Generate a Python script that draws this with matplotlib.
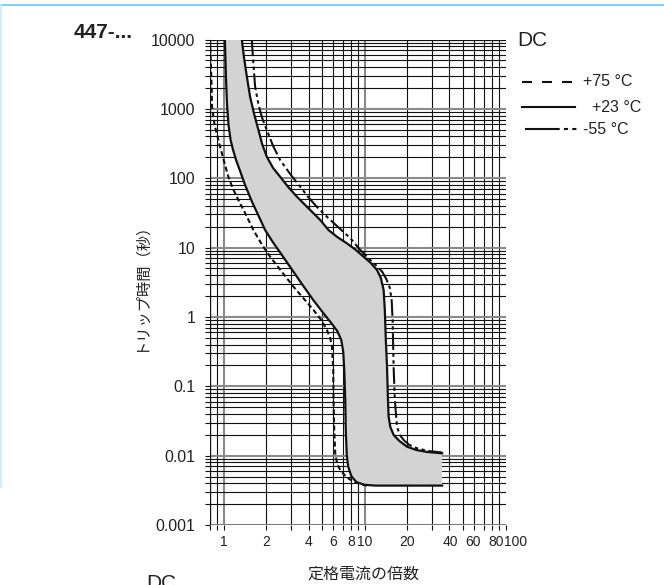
import matplotlib
matplotlib.use("Agg")
import matplotlib.pyplot as plt
from matplotlib.lines import Line2D
from matplotlib.ticker import FixedLocator, NullFormatter
from matplotlib.transforms import ScaledTranslation

plt.rcParams["font.family"] = ["Liberation Sans", "Noto Sans CJK JP", "DejaVu Sans"]
plt.rcParams["lines.scale_dashes"] = False

# 読み取ったデータ（定格電流の倍数, トリップ時間[s]）
# +23°C 下限（最小トリップ）
lower23_x = [1.02, 1.04, 1.057, 1.083, 1.12, 1.166, 1.225, 1.308, 1.419, 1.591, 1.785, 1.969,
             2.208, 2.559, 2.965, 3.549, 4.319, 5.088, 5.799, 6.397, 6.831, 7.058, 7.175, 7.293,
             7.353, 7.474, 7.659, 8.045, 8.73, 9.951, 11.92, 35.5]
lower23_y = [10000, 2607, 1137, 585, 356, 255, 183, 127, 79.9, 45.4, 27.6, 17.9,
             12.4, 8.08, 5.25, 3.09, 1.755, 1.14, 0.818, 0.627, 0.465, 0.312, 0.172, 0.0635,
             0.0234, 0.0102, 0.00686, 0.00509, 0.00417, 0.0038, 0.0037, 0.0037]

# +23°C 上限（最大トリップ）
upper23_x = [1.345, 1.396, 1.455, 1.54, 1.645, 1.765, 1.875, 2.024, 2.244, 2.517, 2.87, 3.308,
             3.789, 4.341, 4.843, 5.547, 6.397, 7.498, 8.588, 9.838, 10.98, 12.25, 13.04, 13.65,
             13.92, 14.15, 14.43, 14.62, 14.81, 15.23, 16.07, 17.65, 20.02, 23.31, 27.77, 35.5]
upper23_y = [10000, 5412, 3078, 1497, 843, 496, 311, 204, 140, 105, 74.7, 54.2,
             41.1, 31.2, 25.0, 17.9, 14.2, 11.5, 9.38, 7.39, 6.09, 4.75, 3.64, 2.45,
             1.26, 0.465, 0.192, 0.0749, 0.0365, 0.0259, 0.0199, 0.0163, 0.01346, 0.01206, 0.01129, 0.0108]

# -55°C
m55_x = [1.584, 1.618, 1.672, 1.77, 1.875, 2.024, 2.244, 2.517, 2.965, 3.491, 3.98, 4.589,
         5.521, 6.721, 7.914, 9.32, 10.98, 12.31, 13.36, 14.27, 15.11, 15.56, 15.81, 16.07,
         16.39, 16.99, 17.79, 18.93, 20.78, 23.58, 28.36, 35.5]
m55_y = [10000, 5062, 2087, 1137, 738, 496, 291, 183, 115, 75.5, 53.6, 38.5,
         26.7, 18.5, 13.7, 9.23, 6.62, 5.34, 4.45, 3.52, 2.61, 1.755, 0.903, 0.192,
         0.0635, 0.0261, 0.0199, 0.0168, 0.01425, 0.01276, 0.01167, 0.0111]

# +75°C
p75_x = [0.8, 0.814, 0.823, 0.827, 0.862, 0.917, 0.99, 1.08, 1.166, 1.272, 1.419, 1.626,
         1.875, 2.137, 2.559, 3.129, 3.667, 4.341, 4.924, 5.405, 5.704, 5.865, 5.992, 6.022,
         6.09, 6.191, 6.397, 6.721, 7.413, 8.354, 9.32, 10.4]
p75_y = [10000, 3632, 1870, 1074, 585, 356, 196, 105, 69.9, 48.5, 31.5, 17.9,
         10.9, 7.39, 4.6, 2.73, 1.876, 1.26, 0.903, 0.648, 0.497, 0.372, 0.172, 0.0635,
         0.0234, 0.0108, 0.00758, 0.00621, 0.00492, 0.00421, 0.0039, 0.0037]

x_ticks = [1, 2, 4, 6, 8, 10, 20, 40, 60, 80, 100]
x_ticklabels = ["1", "2", "4", "6", "8", "10", "20", "40", "60", "80", "100"]
y_ticks = [0.001, 0.01, 0.1, 1, 10, 100, 1000, 10000]
y_ticklabels = ["0.001", "0.01", "0.1", "1", "10", "100", "1000", "10000"]

legend_labels = ["+75 °C", "+23 °C", "-55 °C"]

fig = plt.figure(figsize=(6.64, 5.85), dpi=100)
ax = fig.add_axes([210 / 664, 1 - 525 / 585, 295.5 / 664, 485.5 / 585])
ax.set_xscale("log")
ax.set_yscale("log")
ax.set_xlim(0.8, 100)
ax.set_ylim(0.001, 10000)

# グリッド
minor_x = [m * 10 ** e for e in range(-1, 2) for m in range(1, 10) if 0.8 <= m * 10 ** e <= 100]
minor_y = [m * 10 ** e for e in range(-3, 4) for m in range(1, 10)]
ax.xaxis.set_major_locator(FixedLocator(x_ticks))
ax.xaxis.set_minor_locator(FixedLocator(minor_x))
ax.yaxis.set_major_locator(FixedLocator(y_ticks))
ax.yaxis.set_minor_locator(FixedLocator(minor_y))
ax.xaxis.set_minor_formatter(NullFormatter())
ax.yaxis.set_minor_formatter(NullFormatter())
ax.set_xticklabels(x_ticklabels)
ax.set_yticklabels(y_ticklabels)

for v in minor_x:
    dec = any(abs(v - d) < 1e-9 for d in (1, 10, 100))
    ax.axvline(v, color="#8a8a8a" if dec else "#111111", lw=1.5 if dec else 0.8, zorder=1)
for v in minor_y:
    dec = any(abs(v - d) / d < 1e-9 for d in y_ticks)
    ax.axhline(v, color="#8a8a8a" if dec else "#111111", lw=1.5 if dec else 0.8, zorder=1)

for s in ax.spines.values():
    s.set_visible(False)
ax.axhline(0.001, color="#111111", lw=0.9, zorder=1)
ax.axhline(10000, color="#111111", lw=0.9, zorder=1)
ax.axvline(0.8, color="#111111", lw=0.9, zorder=1)

ax.tick_params(axis="both", which="both", direction="out", length=3.5, width=0.8,
               color="#111111", labelcolor="#222222")
ax.tick_params(axis="y", pad=7, labelsize=11.4)
ax.tick_params(axis="x", pad=4, labelsize=10)
ax.tick_params(top=False, right=False)

# 重なり回避のためラベルを少しずらす（pt）
x_offsets = {"100": 7.5, "80": 3.2, "60": -1.2, "40": 1}
for lab in ax.get_xticklabels():
    dx = x_offsets.get(lab.get_text(), 0)
    if dx:
        lab.set_transform(lab.get_transform() + ScaledTranslation(dx / 72, 0, fig.dpi_scale_trans))

# 網掛け（+23°C の帯）
band_x = lower23_x + upper23_x[::-1]
band_y = lower23_y + upper23_y[::-1]
ax.fill(band_x, band_y, color="#d3d3d3", lw=0, zorder=2)

ax.plot(lower23_x, lower23_y, color="#111111", lw=1.6, zorder=3)
ax.plot(upper23_x, upper23_y, color="#111111", lw=1.6, zorder=3)
ax.plot(p75_x, p75_y, color="#111111", lw=1.5, dashes=(3.6, 2.2), zorder=3)
ax.plot(m55_x, m55_y, color="#111111", lw=1.5, dashes=(12, 2.5, 2.5, 2.5, 2.5, 2.5), zorder=3)

ax.set_xlabel("定格電流の倍数", family=["Noto Sans CJK JP"], fontsize=11.5, color="#222222")
ax.xaxis.set_label_coords((363 - 210) / 295.5, -0.084)
ax.set_ylabel("トリップ時間（秒）", family=["Noto Sans CJK JP"], fontsize=11, labelpad=2, color="#222222")

# 凡例
fig.text(517 / 664, 1 - 41 / 585, "DC", fontsize=15, va="center", ha="left", color="#222222")
leg_styles = [dict(dashes=(7.2, 7.2)), dict(), dict(dashes=(25, 3, 3, 3, 3, 3))]
leg_lines = [(522, 573, 82, 583), (522, 575, 107, 592), (525, 578, 129, 583)]
for (x0, x1, yy, tx), st, lab in zip(leg_lines, leg_styles, legend_labels):
    fig.add_artist(Line2D([x0 / 664, x1 / 664], [1 - yy / 585] * 2, color="#111111", lw=1.5, **st))
    fig.text(tx / 664, 1 - yy / 585, lab, fontsize=11.5, va="center", ha="left", color="#222222")

fig.text(133 / 664, 1 - 32 / 585, "447-...", fontsize=15, fontweight="bold", ha="right", va="center", color="#222222")
fig.text(146 / 664, 1 - 574 / 585, "DC", fontsize=15, ha="left", va="top", color="#222222")

# 外枠（薄い青）
fig.add_artist(Line2D([0, 1], [1 - 5 / 585] * 2, color="#7fd2f5", lw=1.5))
fig.add_artist(Line2D([0.8 / 664] * 2, [1 - 5 / 585, 1 - 487 / 585], color="#c6eafa", lw=1.2))

fig.savefig("out.png", dpi=100)
